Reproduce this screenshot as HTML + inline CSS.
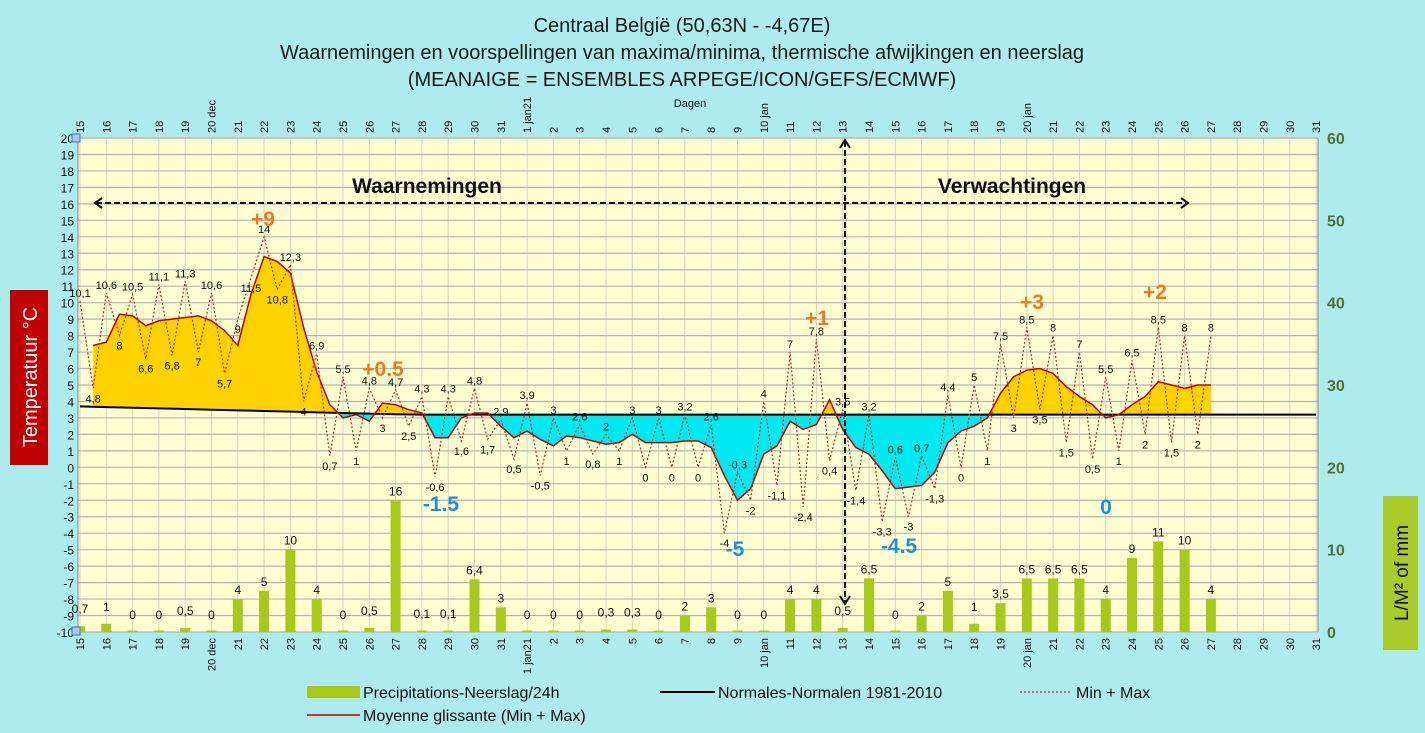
<!DOCTYPE html>
<html><head><meta charset="utf-8">
<style>
html,body{margin:0;padding:0;background:#aeebee;}
svg{display:block;font-family:"Liberation Sans",sans-serif;}
</style></head>
<body>
<svg id="c" width="1425" height="733" viewBox="0 0 1425 733" xmlns="http://www.w3.org/2000/svg">
<rect x="0" y="0" width="1425" height="733" fill="#aeebee"/>
<g font-size="20" fill="#1a1a1a" text-anchor="middle">
<text x="682" y="32">Centraal België (50,63N - -4,67E)</text>
<text x="682" y="59">Waarnemingen en voorspellingen van maxima/minima, thermische afwijkingen en neerslag</text>
<text x="682" y="86">(MEANAIGE = ENSEMBLES ARPEGE/ICON/GEFS/ECMWF)</text>
</g>
<rect x="78" y="138" width="1240" height="494" fill="#ffffd2"/>
<g id="grid"></g>
<g id="fills"></g>
<g id="lines"></g>
<g id="bars"></g>
<g id="labels"></g>
<g id="axes"></g>
<g>
<text x="427" y="193" font-size="21" font-weight="bold" text-anchor="middle" fill="#111">Waarnemingen</text>
<text x="1012" y="193" font-size="21" font-weight="bold" text-anchor="middle" fill="#111">Verwachtingen</text>
<line x1="96" y1="203" x2="1187" y2="203" stroke="#111" stroke-width="2" stroke-dasharray="6,3"/>
<polyline points="102,198 95,203 102,208" fill="none" stroke="#111" stroke-width="2"/>
<polyline points="1181,198 1188,203 1181,208" fill="none" stroke="#111" stroke-width="2"/>
<line x1="845" y1="141" x2="845" y2="602" stroke="#111" stroke-width="2" stroke-dasharray="6,3"/>
<polyline points="840,148 845,140 850,148" fill="none" stroke="#111" stroke-width="2"/>
<polyline points="840,596 845,604 850,596" fill="none" stroke="#111" stroke-width="2"/>
<g font-size="21" font-weight="bold" fill="#f07820" text-anchor="middle">
<text x="263" y="226">+9</text>
<text x="383" y="376">+0.5</text>
<text x="817" y="325">+1</text>
<text x="1032" y="309">+3</text>
<text x="1155" y="299">+2</text>
</g>
<g font-size="21" font-weight="bold" fill="#1e90e0" text-anchor="middle">
<text x="441" y="511">-1.5</text>
<text x="735" y="556">-5</text>
<text x="899" y="553">-4.5</text>
<text x="1106" y="514">0</text>
</g>
</g>
<g>
<rect x="10" y="290" width="38" height="175" fill="#c00000"/>
<text x="0" y="0" transform="translate(37,377) rotate(-90)" font-size="20" fill="#fff" text-anchor="middle">Temperatuur °C</text>
</g>
<g>
<rect x="1383" y="496" width="35" height="154" fill="#a9cc2a"/>
<text x="0" y="0" transform="translate(1408,573) rotate(-90)" font-size="19" fill="#111" text-anchor="middle">L/M² of mm</text>
</g>
<g font-size="16" fill="#111">
<rect x="307" y="686" width="53" height="12" fill="#a8c81a"/>
<text x="363" y="698">Precipitations-Neerslag/24h</text>
<line x1="660" y1="692" x2="715" y2="692" stroke="#000" stroke-width="2"/>
<text x="718" y="698">Normales-Normalen 1981-2010</text>
<line x1="1020" y1="692" x2="1072" y2="692" stroke="#b03030" stroke-width="1.3" stroke-dasharray="2,2"/>
<text x="1076" y="698">Min + Max</text>
<line x1="307" y1="715" x2="360" y2="715" stroke="#c00000" stroke-width="1.5"/>
<text x="363" y="721">Moyenne glissante (Min + Max)</text>
</g>
</svg>
<script>
const dayLabels=["15","16","17","18","19","20 dec","21","22","23","24","25","26","27","28","29","30","31","1 jan21","2","3","4","5","6","7","8","9","10 jan","11","12","13","14","15","16","17","18","19","20 jan","21","22","23","24","25","26","27","28","29","30","31"];
const minMax=[10.1,4.8,10.6,8,10.5,6.6,11.1,6.8,11.3,7,10.6,5.7,9,11.5,14,10.8,12.3,4,6.9,0.7,5.5,1,4.8,3,4.7,2.5,4.3,-0.6,4.3,1.6,4.8,1.7,2.9,0.5,3.9,-0.5,3,1,2.6,0.8,2,1,3,0,3,0,3.2,0,2.6,-4,-0.3,-2,4,-1.1,7,-2.4,7.8,0.4,3.5,-1.4,3.2,-3.3,0.6,-3,0.7,-1.3,4.4,0,5,1,7.5,3,8.5,3.5,8,1.5,7,0.5,5.5,1,6.5,2,8.5,1.5,8,2,8];
const movingAvg=[7.4,7.6,9.3,9.2,8.6,8.9,9.0,9.1,9.2,8.9,8.3,7.4,10.5,12.8,12.5,11.8,8.5,5.8,3.8,3.0,3.2,2.8,3.9,3.8,3.5,3.3,1.8,1.8,3.0,3.3,3.3,2.5,1.8,2.2,1.7,1.3,1.9,1.8,1.6,1.4,1.5,2.0,1.5,1.5,1.5,1.6,1.6,1.2,-0.5,-2.0,-1.3,0.8,1.3,2.8,2.3,2.6,4.1,2.3,1.2,0.8,-0.2,-1.3,-1.2,-1.1,-0.3,1.5,2.2,2.5,3.0,4.5,5.5,5.9,6.0,5.7,4.9,4.3,3.8,3.0,3.2,3.8,4.3,5.2,5.0,4.8,5.0,5.0];
const normals=[3.7,3.66,3.62,3.58,3.54,3.5,3.46,3.42,3.38,3.34,3.3,3.26,3.22,3.2,3.2,3.2,3.2,3.2,3.2,3.2,3.2,3.2,3.2,3.2,3.2,3.2,3.2,3.2,3.2,3.2,3.2,3.2,3.2,3.2,3.2,3.2,3.2,3.2,3.2,3.2,3.2,3.2,3.2,3.2,3.2,3.2,3.2,3.2];
const precip=[0.7,1,0,0,0.5,0,4,5,10,4,0,0.5,16,0.1,0.1,6.4,3,0,0,0,0.3,0.3,0,2,3,0,0,4,4,0.5,6.5,0,2,5,1,3.5,6.5,6.5,6.5,4,9,11,10,4];
const tempTicks=[20,19,18,17,16,15,14,13,12,11,10,9,8,7,6,5,4,3,2,1,0,-1,-2,-3,-4,-5,-6,-7,-8,-9,-10];
const mmTicks=[0,10,20,30,40,50,60];

const NS="http://www.w3.org/2000/svg";
const X0=80,DX=26.3,PT=138,PB=632,PL=78,PR=1318;
function xDay(i){return X0+i*DX;}
function yT(t){return PT+(20-t)*(PB-PT)/30;}
function yR(v){return PB-v*(PB-PT)/60;}
function fmt(v){return String(v).replace('.',',');}
function mk(tag,attrs,parent){const e=document.createElementNS(NS,tag);for(const k in attrs)e.setAttribute(k,attrs[k]);parent.appendChild(e);return e;}
const grid=document.getElementById('grid'),fills=document.getElementById('fills'),lines=document.getElementById('lines'),bars=document.getElementById('bars'),labels=document.getElementById('labels'),axes=document.getElementById('axes');

for(let i=0;i<dayLabels.length;i++){
  const l=mk('line',{x1:xDay(i),x2:xDay(i),y1:PT,y2:PB,stroke:'#d4d4c0','stroke-width':1},grid);
  
  
}
tempTicks.forEach(t=>{
  const l=mk('line',{x1:PL,x2:PR,y1:yT(t),y2:yT(t),stroke:'#b4b4b4','stroke-width':1.2},grid);
  
  
  const tx=mk('text',{x:PL-4,y:yT(t)+5,'font-size':12,'text-anchor':'end',fill:'#111'},axes);
  tx.textContent=t;
  
  
});
mmTicks.forEach(v=>{
  const tx=mk('text',{x:1327,y:yR(v)+6,'font-size':16,'font-weight':'bold',fill:'#55702a'},axes);
  tx.textContent=v;
  
  
});
mk('line',{x1:PL,x2:PL,y1:PT,y2:PB,stroke:'#888'},axes);
mk('line',{x1:PR,x2:PR,y1:PT,y2:PB,stroke:'#888'},axes);
mk('rect',{x:72,y:134,width:8,height:8,fill:'#a9c9ee',stroke:'#3c78c8'},axes);
mk('rect',{x:72,y:627,width:8,height:8,fill:'#a9c9ee',stroke:'#3c78c8'},axes);
dayLabels.forEach((d,i)=>{
  const x=xDay(i)+4;
  const t1=mk('text',{transform:`translate(${x},133) rotate(-90)`,'font-size':11,fill:'#111'},axes);
  t1.textContent=d;
  
  
  const t2=mk('text',{transform:`translate(${x},638) rotate(-90)`,'font-size':11,fill:'#111','text-anchor':'end'},axes);
  t2.textContent=d;
  
  
});
const dg=mk('text',{x:690,y:107,'font-size':11,'text-anchor':'middle',fill:'#111'},axes);
dg.textContent='Dagen';



// fills: separate polygons per run above / below normal
function normAt(x){const f=(x-X0)/DX;const i=Math.max(0,Math.min(normals.length-2,Math.floor(f)));const r=f-i;return normals[i]*(1-r)+normals[i+1]*r;}
const seq=[];
movingAvg.forEach((v,j)=>{
  const x=xDay((j+1)/2);
  if(seq.length){
    const p=seq[seq.length-1];
    const d0=p.a-normAt(p.x),d1=v-normAt(x);
    if(d0*d1<0){const r=d0/(d0-d1);const xc=p.x+r*(x-p.x);seq.push({x:xc,a:normAt(xc)});}
  }
  seq.push({x:x,a:v});
});
function drawRuns(sign,color,name){
  let run=[];
  const flush=()=>{
    if(run.length>1){
      let s=run.map(q=>q.x+','+yT(q.a)).join(' ');
      for(let k=run.length-1;k>=0;k--)s+=' '+run[k].x+','+yT(normAt(run[k].x));
      const pg=mk('polygon',{points:s,fill:color},fills);
      
      
    }
    run=[];
  };
  seq.forEach(q=>{
    const d=(q.a-normAt(q.x))*sign;
    if(d>1e-9){run.push(q);}
    else if(Math.abs(d)<=1e-9){run.push(q);flush();run.push(q);}
    else{flush();}
  });
  flush();
}
drawRuns(1,'#ffd200','warm-anomaly-fill');
drawRuns(-1,'#00e8f0','cold-anomaly-fill');

const normPts=normals.map((v,i)=>[xDay(i),yT(v)]);
const avgPts=movingAvg.map((v,j)=>[xDay((j+1)/2),yT(v)]);
const nl=mk('polyline',{points:normPts.map(p=>p.join(',')).join(' '),fill:'none',stroke:'#000','stroke-width':2},lines);


const ml=mk('polyline',{points:avgPts.map(p=>p.join(',')).join(' '),fill:'none',stroke:'#c00000','stroke-width':1.5},lines);


const mmPts=minMax.map((v,k)=>[xDay(k/2),yT(v)]);
const dl=mk('polyline',{points:mmPts.map(p=>p.join(',')).join(' '),fill:'none',stroke:'#b03030','stroke-width':1.2,'stroke-dasharray':'2,2'},lines);


minMax.forEach((v,k)=>{
  const prev=k>0?minMax[k-1]:-99,next=k<minMax.length-1?minMax[k+1]:-99;
  const up=v>=prev&&v>=next;
  const t=mk('text',{x:mmPts[k][0],y:up?mmPts[k][1]-4:mmPts[k][1]+14,'font-size':11,'text-anchor':'middle',fill:'#111'},labels);
  t.textContent=fmt(v);
  
  
});
precip.forEach((v,i)=>{
  const x=xDay(i);
  const h=Math.max(v*(PB-PT)/60,1.5);
  const r=mk('rect',{x:x-5,y:PB-h,width:10,height:h,fill:'#a8c81a'},bars);
  
  
  const t=mk('text',{x:x,y:yR(v)-5-(v<2?8:0),'font-size':12,'text-anchor':'middle',fill:'#111'},labels);
  t.textContent=fmt(v);
  
  
});
</script>
</body></html>
